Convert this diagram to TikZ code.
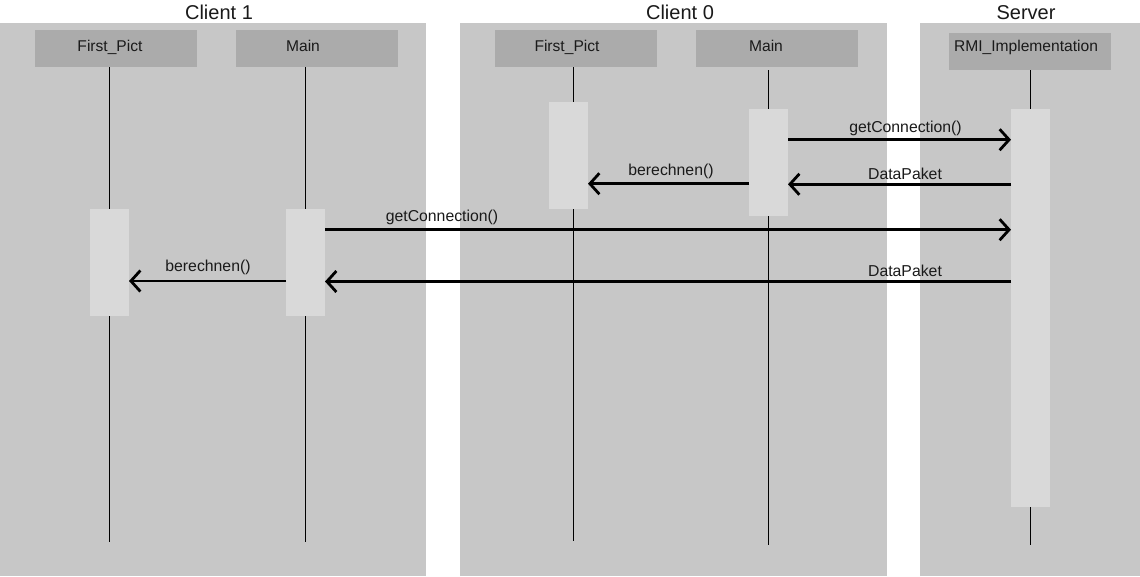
\documentclass[tikz,border=0pt]{standalone}
\usepackage{fontspec}
\setmainfont{Liberation Sans}
\usetikzlibrary{arrows.meta}
\definecolor{panelgray}{HTML}{C7C7C7}
\definecolor{headgray}{HTML}{ABABAB}
\definecolor{actgray}{HTML}{D9D9D9}
\definecolor{txt}{HTML}{1A1A1A}
\tikzset{
  panel/.style={fill=panelgray, draw=none, inner sep=0, outer sep=0, anchor=north west},
  headbox/.style={fill=headgray, draw=none, inner sep=0, outer sep=0, anchor=north west, minimum width=162, minimum height=37},
  headlbl/.style={font=\fontsize{15.6}{18}\selectfont, text=txt, inner sep=0},
  title/.style={font=\fontsize{20}{22}\selectfont, text=txt, inner sep=0},
  act/.style={fill=actgray, draw=none, inner sep=0, outer sep=0, anchor=north west, minimum width=39},
  life/.style={draw=black, line width=0.9pt},
  msg/.style={draw=black, line width=2.8pt, -{Straight Barb[length=9.5pt,width=21pt,line width=2.8pt]}},
  msglbl/.style={font=\fontsize{15.8}{18}\selectfont, text=txt, inner sep=0},
}
\begin{document}
\begin{tikzpicture}[x=1pt,y=-1pt]
\useasboundingbox (0,0) rectangle (1140,576);
\fill[white] (0,0) rectangle (1140,576);
% panels
\node[panel, minimum width=426, minimum height=553] (p1) at (0,23) {};
\node[panel, minimum width=427, minimum height=553] (p0) at (460,23) {};
\node[panel, minimum width=220, minimum height=553] (ps) at (920,23) {};
% titles
\node[title] (t1) at (219,12.5) {Client 1};
\node[title] (t0) at (680,12.5) {Client 0};
\node[title] (ts) at (1026,12.5) {Server};
% headers
\node[headbox] (c1fh) at (35,30) {};
\node[headbox] (c1mh) at (236,30) {};
\node[headbox] (c0fh) at (495,30) {};
\node[headbox] (c0mh) at (696,30) {};
\node[headbox] (sh) at (949,33) {};
\node[headlbl] (c1fl) at (110,47.5) {First\_Pict};
\node[headlbl] (c1ml) at (303,45.5) {Main};
\node[headlbl] (c0fl) at (567,47.5) {First\_Pict};
\node[headlbl] (c0ml) at (766,45.5) {Main};
\node[headlbl] (sl) at (1026,47.5) {RMI\_Implementation};
% lifeline ends
\coordinate (c1fe) at (109.3,542);
\coordinate (c1me) at (305.3,542);
\coordinate (c0fe) at (573.6,541);
\coordinate (c0me) at (768.3,545);
\coordinate (se) at (1030.3,545);
\draw[life] (c1fh.south -| c1fe) -- (c1fe);
\draw[life] (c1mh.south -| c1me) -- (c1me);
\draw[life] (c0fh.south -| c0fe) -- (c0fe);
\draw[life] (c0me |- 0,70) -- (c0me);
\draw[life] (sh.south -| se) -- (se);
% activations
\node[act, minimum height=107] (c1fa) at (90,209) {};
\node[act, minimum height=107] (c1ma) at (286,209) {};
\node[act, minimum height=107] (c0fa) at (549,102) {};
\node[act, minimum height=107] (c0ma) at (749,109) {};
\node[act, minimum height=398] (sa) at (1011,109) {};
% messages
\draw[msg] (c0ma.east |- 0,139.7) -- (sa.west |- 0,139.7);
\node[msglbl] (l1) at (905.5,128) {getConnection()};
\draw[msg] (sa.west |- 0,184.3) -- (c0ma.east |- 0,184.3);
\node[msglbl] (l2) at (905,174) {DataPaket};
\draw[msg] (c0ma.west |- 0,183.7) -- (c0fa.east |- 0,183.7);
\node[msglbl] (l3) at (671,171) {berechnen()};
\draw[msg] (c1ma.east |- 0,229.7) -- (sa.west |- 0,229.7);
\node[msglbl] (l4) at (442,217.5) {getConnection()};
\draw[msg] (sa.west |- 0,281.5) -- (c1ma.east |- 0,281.5);
\node[msglbl] (l5) at (905,271) {DataPaket};
\draw[msg] (c1ma.west |- 0,281) -- (c1fa.east |- 0,281);
\node[msglbl] (l6) at (208,267) {berechnen()};
\end{tikzpicture}
\end{document}
